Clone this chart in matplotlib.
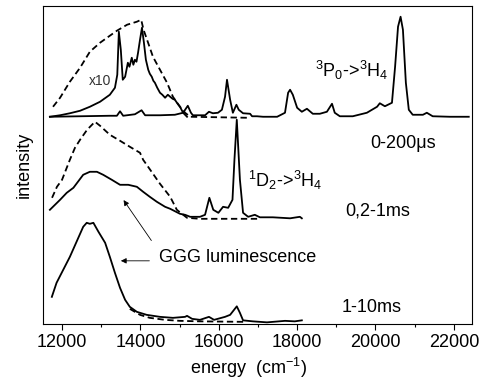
"""Time-resolved luminescence spectra (GGG:Pr), redrawn from the figure"""

import matplotlib
matplotlib.use('Agg')
from matplotlib import pyplot as plt

plt.rcParams['font.family'] = ['Liberation Sans', 'DejaVu Sans']
plt.rcParams['mathtext.fontset'] = 'custom'
plt.rcParams['mathtext.rm'] = 'Liberation Sans'
plt.rcParams['mathtext.it'] = 'Liberation Sans'
plt.rcParams['mathtext.default'] = 'regular'

# --- data (energy in cm-1, intensity in arb. units, curves already offset) ---
# 0-200 us window, full scale
e_top = [11690, 12460, 13220, 13400, 13480, 13560, 13860, 14030, 14120, 14500, 14880,
         15090, 15210, 15290, 15340, 15650, 15750, 15850, 15980, 16080, 16160, 16210,
         16290, 16360, 16450, 16510, 16620, 16800, 16850, 16975, 17130, 17490, 17690,
         17770, 17820, 17890, 18000, 18120, 18250, 18400, 18580, 18760, 18890, 18960,
         19090, 19420, 19780, 20040, 20110, 20240, 20420, 20500, 20575, 20640, 20700,
         20775, 20850, 20950, 21210, 21310, 21460, 21900, 22380]
i_top = [207, 207.5, 208, 208, 212.5, 208, 209.5, 213.5, 208.5, 208.5, 209,
         211, 218, 211, 208.5, 208.5, 212, 210.5, 211, 214, 227, 244,
         224, 211, 219, 214, 210.5, 210, 207.5, 207.5, 207, 207, 211,
         231, 234, 229, 216, 212, 215, 210, 210, 212, 220, 211,
         207.5, 207.5, 211, 217, 220.5, 217.5, 221, 257, 297, 307, 294,
         241, 214, 209, 209, 211, 207.5, 207, 207]

# 0-200 us window, x10
e_top10 = [11690, 11950, 12200, 12460, 12710, 12970, 13220, 13350, 13410, 13450, 13500,
           13550, 13610, 13650, 13680, 13720, 13780, 13820, 13860, 13900, 13940, 13990,
           14040, 14090, 14140, 14200, 14240, 14290, 14330, 14370, 14430, 14500, 14560,
           14630, 14700, 14760, 14820, 14880, 14950, 15010, 15090, 15190]
i_top10 = [207, 208.5, 210.5, 213, 217, 222, 229, 236, 249, 292, 274,
           244, 247, 255, 261, 257, 266, 259, 264, 262, 271, 284,
           296, 281, 264, 254, 250, 247, 243, 241, 236, 231, 229,
           226, 229, 227, 225, 224, 220, 217, 211, 207]
e_top10_dash = [11770, 11950, 12200, 12460, 12710, 12970, 13220, 13400, 13660, 13910,
                14020, 14080, 14170, 14320, 14500, 14680, 14830, 15010, 15140, 15270, 16720]
i_top10_dash = [217, 226, 242, 256, 272, 281, 288, 293, 299, 302,
                304, 294, 284, 267, 254, 241, 227, 217, 211, 207, 206]

# 0,2-1 ms window
e_mid = [11690, 11950, 12120, 12290, 12540, 12710, 12890, 13050, 13270, 13480, 13690,
         13910, 14070, 14240, 14420, 14630, 14760, 15010, 15140, 15270, 15520, 15650,
         15760, 15860, 15990, 16110, 16240, 16350, 16400, 16460, 16500, 16540, 16620,
         16750, 16920, 17050, 17380, 17820, 18070, 18120]
i_mid = [114, 124, 131, 136, 149, 152, 152, 149, 144, 139, 139,
         137, 132, 127, 122, 117, 115, 110, 109, 107, 107, 109,
         126, 114, 111, 117, 116, 124, 164, 204, 174, 144, 111,
         107, 109, 106.5, 106.5, 105.5, 107, 105.5]
e_mid_dash = [11745, 11870, 12000, 12100, 12200, 12330, 12460, 12640, 12840, 12970, 13220,
              13480, 13730, 13990, 14070, 14250, 14500, 14760, 14930, 15190, 15520, 16980]
i_mid_dash = [126, 137, 144, 154, 164, 176, 184, 194, 202, 198, 189,
              183, 177, 171, 164, 154, 140, 127, 114, 106, 105, 105]

# 1-10 ms window
e_low = [11740, 11860, 12030, 12200, 12370, 12540, 12630, 12710, 12800, 12930, 13100,
         13220, 13350, 13480, 13610, 13730, 13910, 14160, 14500, 14830, 15140, 15190,
         15320, 15520, 15750, 15880, 16160, 16290, 16390, 16460, 16540, 16620, 16870,
         17230, 17690, 17940, 18120]
i_low = [27, 41, 54, 67, 82, 97, 101, 100, 101, 92, 81,
         67, 51, 36, 24, 17, 12, 9, 7, 6, 7, 8,
         5, 4, 7, 4, 7, 9, 14, 17.5, 11, 3.5, 2.5,
         1.5, 3, 2.5, 3.5]
e_low_dash = [13730, 13990, 14240, 14630, 15010, 15520, 16670]
i_low_dash = [15, 9, 6, 4, 3, 2.5, 2]

fig = plt.figure(figsize=(4.89, 3.81), dpi=100)
ax = fig.add_axes([0.088, 0.150, 0.877, 0.835])

lw = 1.3
dash = (0, (3.5, 2))
ax.plot(e_top, i_top, color='black', lw=lw)
ax.plot(e_top10, i_top10, color='black', lw=lw)
ax.plot(e_top10_dash, i_top10_dash, color='black', lw=lw, linestyle=dash)
ax.plot(e_mid, i_mid, color='black', lw=lw)
ax.plot(e_mid_dash, i_mid_dash, color='black', lw=lw, linestyle=dash)
ax.plot(e_low, i_low, color='black', lw=lw)
ax.plot(e_low_dash, i_low_dash, color='black', lw=lw, linestyle=dash)

ax.text(12970, 243, 'x10', fontsize=10, ha='center', va='center', color='#333333')
ax.text(18450, 247, r'$^3$P$_0$->$^3$H$_4$', fontsize=13, ha='left', va='baseline')
ax.text(19860, 180, '0-200\u03bcs', fontsize=13, ha='left', va='center')
ax.text(16745, 137, r'$^1$D$_2$->$^3$H$_4$', fontsize=13, ha='left', va='baseline')
ax.text(19220, 113, '0,2-1ms', fontsize=13, ha='left', va='center')
ax.text(14470, 66, 'GGG luminescence', fontsize=13, ha='left', va='center')
ax.text(19140, 16, '1-10ms', fontsize=13, ha='left', va='center')

arrow = dict(arrowstyle='-|>', lw=0.6, color='black', mutation_scale=8)
ax.annotate('', xy=(13430, 63), xytext=(14300, 63), arrowprops=arrow)
ax.annotate('', xy=(13530, 126), xytext=(14320, 81), arrowprops=arrow)

ax.set_xlim(11515, 22460)
ax.set_ylim(0, 318)
ax.set_xticks([12000, 14000, 16000, 18000, 20000, 22000])
ax.set_xticks([13000, 15000, 17000, 19000, 21000], minor=True)
ax.set_yticks([])
ax.tick_params(axis='x', direction='out', length=4, width=0.8, labelsize=13)
ax.tick_params(axis='x', which='minor', direction='out', length=2.5, width=0.8)
for s in ax.spines.values():
    s.set_linewidth(0.8)

ax.set_xlabel('energy  (cm$^{-1}$)', fontsize=13)
ax.xaxis.set_label_coords(0.478, -0.10)
ax.set_ylabel('intensity', fontsize=13)
ax.yaxis.set_label_coords(-0.025, 0.5)

plt.savefig('out.png', dpi=100)
